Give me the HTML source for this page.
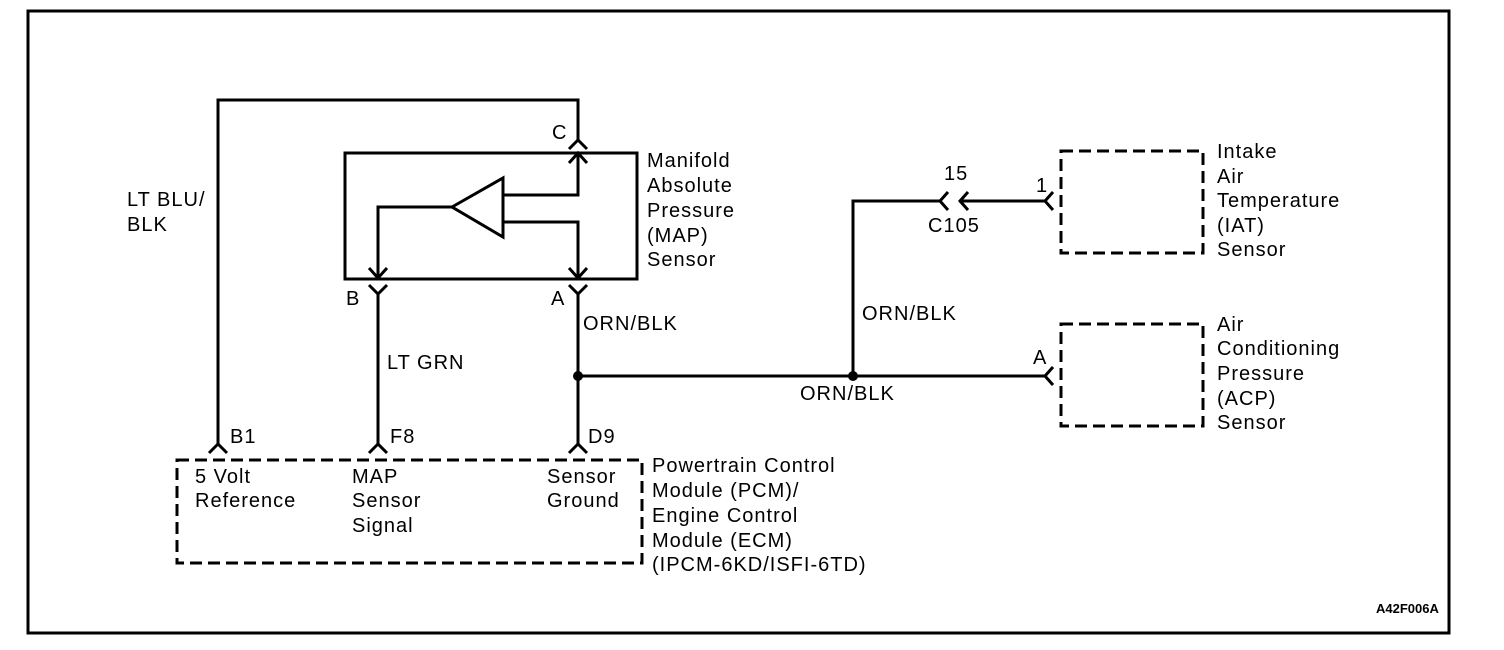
<!DOCTYPE html>
<html><head><style>
body{margin:0;background:#fff;}
svg{display:block;}
text{font-family:"Liberation Sans",Arial,sans-serif;font-size:20px;letter-spacing:1px;fill:#000;}
</style></head><body>
<svg width="1504" height="650" viewBox="0 0 1504 650" xmlns="http://www.w3.org/2000/svg">
<g fill="none" stroke="#000" stroke-width="3">
<rect x="28" y="11" width="1421" height="622" stroke-width="3"/>
<polyline points="218,445 218,100 578,100 578,140"/>
<rect x="345" y="153" width="292" height="126"/>
<polygon points="452,207 503,178 503,237"/>
<polyline points="452,207 378,207 378,279"/>
<polyline points="503,195 578,195 578,153"/>
<polyline points="503,222 578,222 578,279"/>
<polyline points="569,163 578,153 587,163"/>
<polyline points="369,268 378,278 387,268"/>
<polyline points="569,268 578,278 587,268"/>
<polyline points="569,149 578,140 587,149"/>
<polyline points="369,285 378,294 387,285"/>
<polyline points="569,285 578,294 587,285"/>
<line x1="378" y1="294" x2="378" y2="445"/>
<line x1="578" y1="294" x2="578" y2="445"/>
<polyline points="209,453 218,444 227,453"/>
<polyline points="369,453 378,444 387,453"/>
<polyline points="569,453 578,444 587,453"/>
<rect x="177" y="460" width="465" height="103" stroke-dasharray="12,6"/>
<line x1="578" y1="376" x2="1045" y2="376"/>
<polyline points="1053,367 1045,376 1053,385"/>
<polyline points="853,376 853,201 940,201"/>
<polyline points="948,192 940,201 948,210"/>
<polyline points="968,192 960,201 968,210"/>
<line x1="960" y1="201" x2="1045" y2="201"/>
<polyline points="1053,192 1045,201 1053,210"/>
<rect x="1061" y="151" width="142" height="102" stroke-dasharray="12,6"/>
<rect x="1061" y="324" width="142" height="102" stroke-dasharray="12,6"/>
</g>
<circle cx="578" cy="376" r="5" fill="#000"/>
<circle cx="853" cy="376" r="5" fill="#000"/>
<text x="127" y="206">LT BLU/</text>
<text x="127" y="231">BLK</text>
<text x="552" y="139">C</text>
<text x="647" y="167">Manifold</text>
<text x="647" y="192">Absolute</text>
<text x="647" y="217">Pressure</text>
<text x="647" y="242">(MAP)</text>
<text x="647" y="266">Sensor</text>
<text x="346" y="305">B</text>
<text x="551" y="305">A</text>
<text x="583" y="330">ORN/BLK</text>
<text x="387" y="369">LT GRN</text>
<text x="230" y="443">B1</text>
<text x="390" y="443">F8</text>
<text x="588" y="443">D9</text>
<text x="195" y="483">5 Volt</text>
<text x="195" y="507">Reference</text>
<text x="352" y="483">MAP</text>
<text x="352" y="507">Sensor</text>
<text x="352" y="532">Signal</text>
<text x="547" y="483">Sensor</text>
<text x="547" y="507">Ground</text>
<text x="652" y="472">Powertrain Control</text>
<text x="652" y="497">Module (PCM)/</text>
<text x="652" y="522">Engine Control</text>
<text x="652" y="547">Module (ECM)</text>
<text x="652" y="571">(IPCM-6KD/ISFI-6TD)</text>
<text x="944" y="180">15</text>
<text x="928" y="232">C105</text>
<text x="1036" y="192">1</text>
<text x="862" y="320">ORN/BLK</text>
<text x="800" y="400">ORN/BLK</text>
<text x="1033" y="364">A</text>
<text x="1217" y="158">Intake</text>
<text x="1217" y="183">Air</text>
<text x="1217" y="207">Temperature</text>
<text x="1217" y="232">(IAT)</text>
<text x="1217" y="256">Sensor</text>
<text x="1217" y="331">Air</text>
<text x="1217" y="355">Conditioning</text>
<text x="1217" y="380">Pressure</text>
<text x="1217" y="405">(ACP)</text>
<text x="1217" y="429">Sensor</text>
<text x="1376" y="613" style="font-size:13px;font-weight:bold;letter-spacing:0">A42F006A</text>
</svg>
</body></html>
